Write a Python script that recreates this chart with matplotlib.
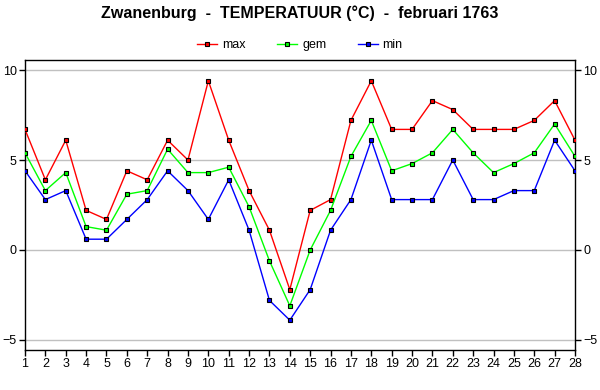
import matplotlib
matplotlib.use("Agg")
import matplotlib.pyplot as plt
from matplotlib.lines import Line2D

days = list(range(1, 29))
tmax = [6.7, 3.9, 6.1, 2.2, 1.7, 4.4, 3.9, 6.1, 5.0, 9.4, 6.1, 3.3, 1.1, -2.2,
        2.2, 2.8, 7.2, 9.4, 6.7, 6.7, 8.3, 7.8, 6.7, 6.7, 6.7, 7.2, 8.3, 6.1]
tgem = [5.4, 3.3, 4.3, 1.3, 1.1, 3.1, 3.3, 5.6, 4.3, 4.3, 4.6, 2.4, -0.6, -3.1,
        0.0, 2.2, 5.2, 7.2, 4.4, 4.8, 5.4, 6.7, 5.4, 4.3, 4.8, 5.4, 7.0, 5.2]
tmin = [4.4, 2.8, 3.3, 0.6, 0.6, 1.7, 2.8, 4.4, 3.3, 1.7, 3.9, 1.1, -2.8, -3.9,
        -2.2, 1.1, 2.8, 6.1, 2.8, 2.8, 2.8, 5.0, 2.8, 2.8, 3.3, 3.3, 6.1, 4.4]
series_names = ["max", "gem", "min"]
colors = ["#ff0000", "#00ff00", "#0000ff"]
yticks = [-5, 0, 5, 10]

plt.rcParams['font.family'] = ['Liberation Sans', 'DejaVu Sans']
fig = plt.figure(figsize=(6, 3.9), dpi=100)
ax = fig.add_axes([25/600, 1-350/390, 550/600, 290/390])

for vals, c in zip([tmax, tgem, tmin], colors):
    ax.plot(days, vals, color=c, lw=1, marker='s', ms=3.3, mfc=c, mec='black', mew=0.8, zorder=3)

ax.set_xlim(1, 28)
ax.set_ylim(-5.556, 10.556)
ax.set_xticks(days)
ax.set_yticks(yticks)
ax.grid(axis='y', color='#c0c0c0', lw=1)
ax.set_axisbelow(True)
ax.tick_params(axis='both', labelsize=9, length=4, width=1, direction='out', pad=2)
ax.tick_params(axis='y', right=True, labelright=True)
for s in ax.spines.values():
    s.set_linewidth(1)

fig.text(0.5, 1-13/390, "Zwanenburg  -  TEMPERATUUR (°C)  -  februari 1763",
         ha='center', va='center', fontsize=11.5, fontweight='bold')

handles = [Line2D([0], [0], color=c, lw=1, marker='s', ms=3, mfc=c, mec='black', mew=0.8)
           for c in colors]
fig.legend(handles, series_names, loc='center', bbox_to_anchor=(0.5, 1-45/390), ncol=3,
           frameon=False, fontsize=9, handlelength=1.6, columnspacing=2.5, handletextpad=0.4)

fig.savefig("out.png", dpi=100)
